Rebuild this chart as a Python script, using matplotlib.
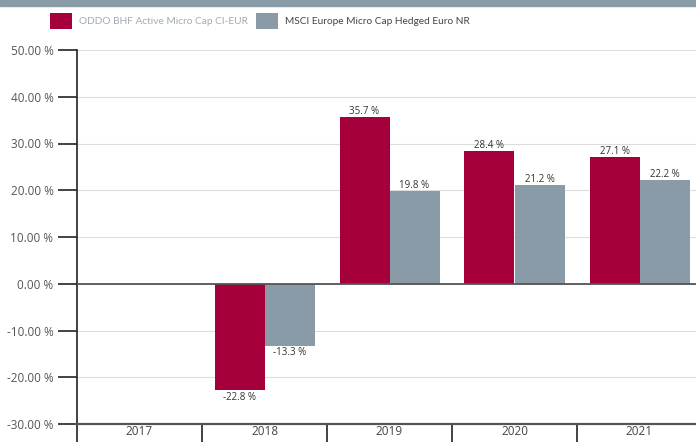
import matplotlib
matplotlib.use("Agg")
import matplotlib.pyplot as plt
import numpy as np
from matplotlib.patches import Rectangle

years = ["2017", "2018", "2019", "2020", "2021"]
oddo = [np.nan, -22.8, 35.7, 28.4, 27.1]
msci = [np.nan, -13.3, 19.8, 21.2, 22.2]
series_names = ["ODDO BHF Active Micro Cap CI-EUR", "MSCI Europe Micro Cap Hedged Euro NR"]
yticks = [-30, -20, -10, 0, 10, 20, 30, 40, 50]

red = "#a5003c"
grey = "#8a9ba8"

plt.rcParams["font.family"] = ["Open Sans", "DejaVu Sans"]

W, H = 696, 442
fig = plt.figure(figsize=(W / 100, H / 100), dpi=100)
ax = fig.add_axes([77 / W, 18 / H, (702 - 77) / W, (424 - 50) / H])

x = np.arange(len(years))
w = 0.4
b1 = ax.bar(x - w / 2, oddo, w, color=red, zorder=3)
b2 = ax.bar(x + w / 2, msci, w, color=grey, zorder=3)

for bars, vals in ((b1, oddo), (b2, msci)):
    for rect, v in zip(bars, vals):
        if np.isnan(v):
            continue
        cx = rect.get_x() + rect.get_width() / 2
        if v >= 0:
            ax.annotate(f"{v:.1f} %", (cx, v), xytext=(0, 0), textcoords="offset points",
                        ha="center", va="bottom", fontsize=7, color="#333333")
        else:
            ax.annotate(f"{v:.1f} %", (cx, v), xytext=(0, -1), textcoords="offset points",
                        ha="center", va="top", fontsize=7, color="#333333")

ax.set_xlim(-0.5, len(years) - 0.5)
ax.set_ylim(-30, 50)
ax.set_yticks(yticks)
ax.set_yticklabels([f"{t:.2f} %" for t in yticks], fontsize=8.5, color="#555555")
ax.yaxis.grid(True, color="#dddddd", linewidth=0.8, zorder=0)
ax.axhline(0, color="#555555", linewidth=1.3, zorder=4)

ax.set_xticks(x)
ax.set_xticklabels(years, fontsize=8.5, color="#444444")
ax.set_xticks(np.arange(-0.5, len(years)), minor=True)
ax.tick_params(axis="x", which="major", length=0, pad=1)
ax.tick_params(axis="x", which="minor", length=18, width=1.2, color="#222222")
ax.tick_params(axis="y", length=14, width=1.2, color="#222222", pad=3)

for s in ("top", "right"):
    ax.spines[s].set_visible(False)
ax.spines["left"].set_color("#222222")
ax.spines["left"].set_linewidth(1.2)
ax.spines["bottom"].set_color("#555555")
ax.spines["bottom"].set_linewidth(1.6)
ax.spines["left"].set_bounds(-30, 50)

# top band
fig.patches.append(Rectangle((0, 1 - 6 / H), 1, 6 / H, transform=fig.transFigure,
                             color=grey, zorder=0))

leg = fig.legend([b1, b2], series_names, loc="center", bbox_to_anchor=(260 / W, 1 - 21 / H),
                 ncol=2, frameon=False, handlelength=2.15, handleheight=2.15,
                 columnspacing=0.85, handletextpad=0.7, borderpad=0.2,
                 prop={"family": ["Lato", "Open Sans"], "size": 7.3})
for p in leg.get_patches():
    p.set_joinstyle("round")
leg.get_texts()[0].set_color("#a0abb5")
leg.get_texts()[1].set_color("#444444")

fig.savefig("out.png", dpi=100)
